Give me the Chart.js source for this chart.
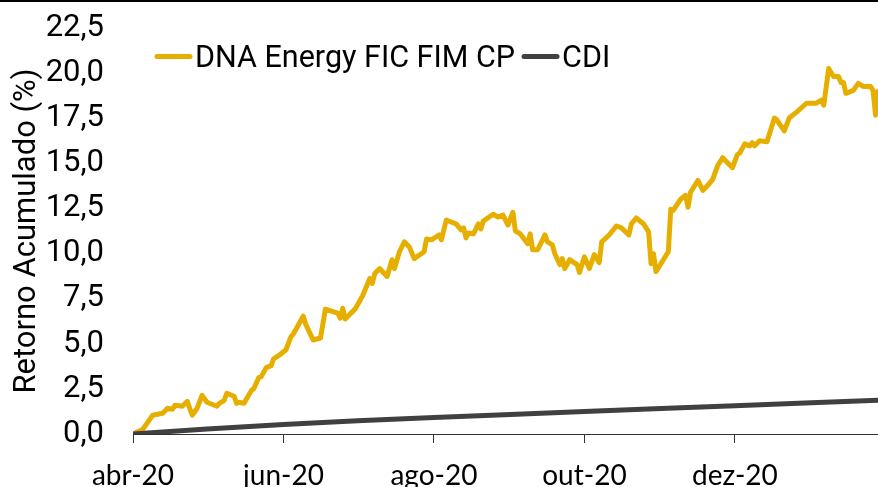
<!DOCTYPE html>
<html lang="pt">
<head>
  <meta charset="UTF-8" />
  <title>DNA Energy FIC FIM CP x CDI</title>
  <style>
    html, body { margin: 0; padding: 0; background: #fff; }
    canvas { display: block; }
  </style>
</head>
<body>
  <canvas id="grafico" width="878" height="487"></canvas>

  <script src="https://cdn.jsdelivr.net/npm/chart.js@4/dist/chart.umd.min.js"></script>
  <script>
    // dias corridos desde 01/04/2020
    const dias = [0, 4, 8, 12, 14, 16, 17, 20, 22, 24, 26, 28, 30, 34, 35, 37, 38, 41, 42, 43, 45, 48, 49, 51, 52, 54, 56, 57, 59, 62,
      64, 65, 69, 70, 73, 76, 78, 83, 84, 85, 86, 90, 93, 96, 97, 98, 100, 103, 105, 106, 108, 110, 112, 114, 118, 119, 121, 124, 125, 127,
      131, 133, 134, 135, 136, 138, 140, 141, 142, 146, 148, 150, 152, 154, 155, 157, 160, 161, 162, 164, 167, 168, 170, 171, 173, 174, 175, 177, 180, 181,
      183, 185, 187, 189, 190, 193, 196, 198, 201, 202, 204, 207, 209, 210, 211, 212, 217, 218, 219, 222, 224, 225, 226, 229, 231, 233, 235, 237, 239, 243,
      245, 246, 248, 250, 251, 252, 254, 257, 260, 261, 264, 266, 269, 273, 277, 279, 280, 282, 284, 286, 287, 288, 289, 292, 294, 296, 299, 300, 301, 302];

    // retorno acumulado do fundo (%)
    const dna = [0, 0.27, 1.04, 1.15, 1.43, 1.37, 1.59, 1.54, 1.81, 1.04, 1.43, 2.14, 1.76, 1.54, 1.70, 1.87, 2.25, 2.09, 1.70, 1.76, 1.70, 2.41, 2.52, 3.13, 3.18, 3.68, 3.79, 4.17, 4.34, 4.67,
      5.38, 5.54, 6.53, 6.09, 5.21, 5.32, 6.92, 6.70, 6.42, 6.97, 6.37, 6.92, 7.63, 8.62, 8.34, 8.89, 9.17, 8.73, 9.66, 9.17, 10.10, 10.65, 10.37, 9.72, 10.10, 10.81, 10.76, 11.03, 10.76, 11.86,
      11.64, 11.31, 11.42, 10.87, 11.14, 11.09, 11.64, 11.36, 11.80, 12.18, 12.02, 12.13, 11.58, 12.29, 11.25, 11.09, 10.54, 11.09, 10.21, 10.21, 11.03, 10.65, 10.48, 9.99, 9.39, 9.72, 9.17, 9.66, 9.39, 8.95,
      9.82, 9.17, 9.94, 9.50, 10.65, 11.03, 11.53, 11.42, 11.03, 11.64, 11.97, 11.64, 11.20, 9.44, 9.99, 9.00, 10.10, 12.46, 12.40, 13.01, 13.23, 12.57, 13.39, 14.05, 13.50, 13.78, 14.11, 14.87, 15.31, 14.76,
      15.48, 15.59, 16.08, 15.97, 16.14, 15.97, 16.25, 16.19, 17.51, 17.40, 16.80, 17.51, 17.84, 18.33, 18.33, 18.50, 18.22, 20.25, 19.81, 19.81, 19.48, 19.48, 18.88, 19.04, 19.43, 19.26, 19.26, 19.04, 17.67, 18.99];

    // CDI acumulado (%) no início de cada mês
    const cdiDias = [0, 30, 61, 91, 122, 153, 183, 214, 244, 275, 302];
    const cdi = [0, 0.28, 0.53, 0.73, 0.91, 1.08, 1.25, 1.41, 1.57, 1.73, 1.87];

    // rótulos do eixo x (a cada 2 meses)
    const marcasX = [0, 61, 122, 183, 244];
    const rotulosX = ["abr-20", "jun-20", "ago-20", "out-20", "dez-20"];

    const nomes = ["DNA Energy FIC FIM CP", "CDI"];
    const cores = ["#E6AF00", "#404040"];

    // legenda desenhada à mão (marcador colado ao texto, como no original)
    const legendaPlugin = {
      id: "legendaManual",
      afterDraw(chart) {
        const ctx = chart.ctx;
        ctx.save();
        // linha preta no topo
        ctx.fillStyle = "#000";
        ctx.fillRect(0, 0, chart.width, 2);

        ctx.font = "30.5px Roboto";
        ctx.textBaseline = "alphabetic";
        ctx.lineWidth = 5;
        ctx.lineCap = "round";
        let x = 157;
        const yLinha = 56.5;
        nomes.forEach((nome, i) => {
          ctx.strokeStyle = cores[i];
          ctx.beginPath();
          ctx.moveTo(x, yLinha);
          ctx.lineTo(x + 33, yLinha);
          ctx.stroke();
          x += 38;
          ctx.fillStyle = "#000";
          ctx.fillText(nome, x, 67);
          x += ctx.measureText(nome).width + 9;
        });
        ctx.restore();
      }
    };

    const ctx = document.getElementById("grafico").getContext("2d");
    new Chart(ctx, {
      type: "line",
      data: {
        datasets: [
          {
            label: nomes[0],
            data: dias.map((d, i) => ({ x: d, y: dna[i] })),
            borderColor: cores[0],
            borderWidth: 5,
            pointRadius: 0,
            tension: 0,
            borderJoinStyle: "round",
            borderCapStyle: "round",
            order: 1
          },
          {
            label: nomes[1],
            data: cdiDias.map((d, i) => ({ x: d, y: cdi[i] })),
            borderColor: cores[1],
            borderWidth: 5,
            pointRadius: 0,
            tension: 0,
            borderJoinStyle: "round",
            borderCapStyle: "round",
            order: 0
          }
        ]
      },
      options: {
        responsive: false,
        animation: false,
        devicePixelRatio: 1,
        layout: { padding: { top: 28, right: 0, bottom: 0, left: 0 } },
        plugins: {
          legend: { display: false },
          tooltip: { enabled: false }
        },
        scales: {
          x: {
            type: "linear",
            min: 0,
            max: 302,
            afterBuildTicks: (scale) => {
              scale.ticks = marcasX.map(v => ({ value: v }));
            },
            afterFit: (scale) => { scale.height = 53; },
            ticks: {
              autoSkip: false,
              maxRotation: 0,
              padding: 16,
              color: "#000",
              font: { family: "Lato", size: 28 },
              callback: (v) => rotulosX[marcasX.indexOf(v)]
            },
            grid: {
              display: true,
              drawOnChartArea: false,
              drawTicks: true,
              tickLength: 9,
              color: "#333",
              lineWidth: 1
            },
            border: { display: true, color: "#333", width: 1 }
          },
          y: {
            min: 0,
            max: 22.5,
            afterFit: (scale) => {
              scale.width = 133;
              scale.paddingTop = 0;
              scale.paddingBottom = 0;
            },
            ticks: {
              stepSize: 2.5,
              padding: 29,
              color: "#000",
              font: { family: "Roboto", size: 31 },
              callback: (v) => v.toFixed(1).replace(".", ",")
            },
            grid: { display: false, drawTicks: false },
            border: { display: false },
            title: {
              display: true,
              text: "Retorno Acumulado (%)",
              color: "#000",
              font: { family: "Roboto", size: 31, lineHeight: 1.2 },
              padding: { top: 9, bottom: 0 }
            }
          }
        }
      },
      plugins: [legendaPlugin]
    });
  </script>
</body>
</html>
